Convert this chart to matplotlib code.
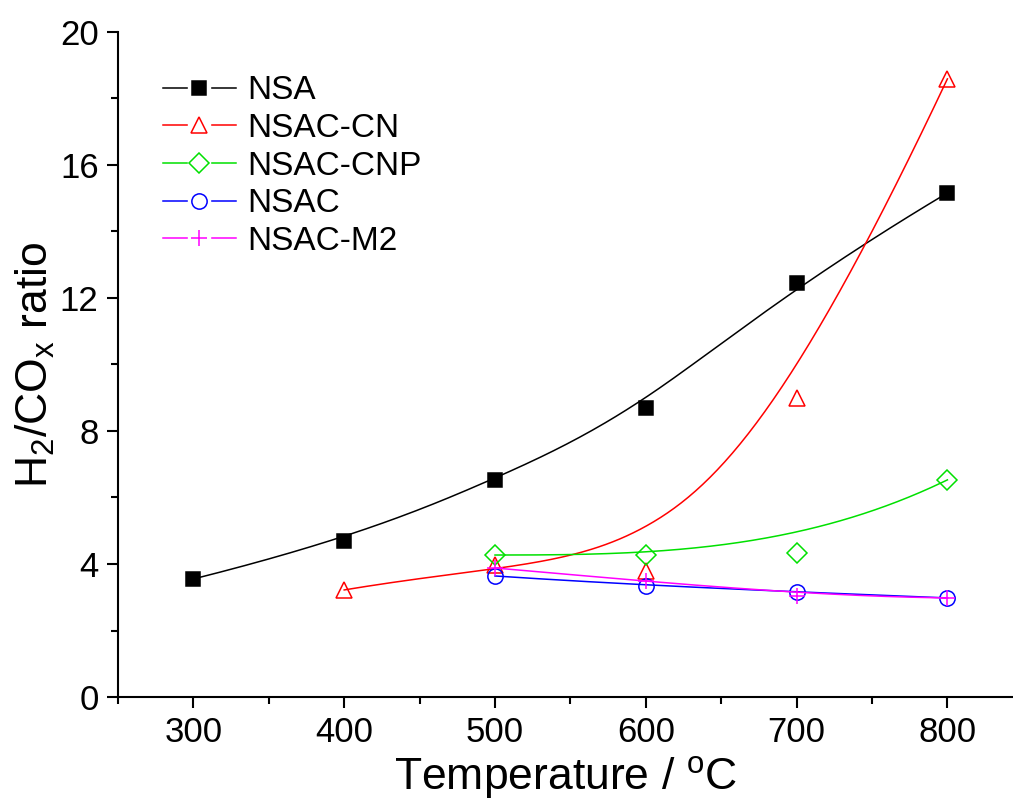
import numpy as np
import matplotlib
matplotlib.use("Agg")
import matplotlib.pyplot as plt
from matplotlib.lines import Line2D
from matplotlib.legend_handler import HandlerTuple
from matplotlib.ticker import MultipleLocator

plt.rcParams['font.family'] = ['Liberation Sans', 'DejaVu Sans']
plt.rcParams['mathtext.fontset'] = 'custom'
plt.rcParams['mathtext.rm'] = 'Liberation Sans'
plt.rcParams['mathtext.it'] = 'Liberation Sans'

# data
temp_nsa = [300, 400, 500, 600, 700, 800]
nsa = [3.55, 4.69, 6.52, 8.69, 12.45, 15.16]

temp_cn = [400, 500, 600, 700, 800]
nsac_cn = [3.22, 3.97, 3.79, 8.99, 18.59]

temp_cnp = [500, 600, 700, 800]
nsac_cnp = [4.27, 4.27, 4.33, 6.53]

temp_nsac = [500, 600, 700, 800]
nsac = [3.64, 3.34, 3.16, 2.98]

temp_m2 = [500, 600, 700, 800]
nsac_m2 = [3.88, 3.49, 3.04, 2.98]


def bspline(xs, ys, n=200):
    # clamped B-spline using the data points as control points (Origin-style)
    pts = np.column_stack([xs, ys]).astype(float)
    m = len(pts)
    k = min(3, m - 1)
    inner = np.linspace(0, 1, m - k + 1)[1:-1]
    knots = np.concatenate([np.zeros(k + 1), inner, np.ones(k + 1)])
    t = np.linspace(0, 1, n)
    t[-1] = 1 - 1e-12

    def basis(i, p, u):
        if p == 0:
            return ((knots[i] <= u) & (u < knots[i + 1])).astype(float)
        a = np.zeros_like(u)
        b = np.zeros_like(u)
        d1 = knots[i + p] - knots[i]
        d2 = knots[i + p + 1] - knots[i + 1]
        if d1 > 0:
            a = (u - knots[i]) / d1 * basis(i, p - 1, u)
        if d2 > 0:
            b = (knots[i + p + 1] - u) / d2 * basis(i + 1, p - 1, u)
        return a + b

    out = np.zeros((n, 2))
    for i in range(m):
        out += basis(i, k, t)[:, None] * pts[i]
    return out[:, 0], out[:, 1]


series = [
    (temp_nsa, nsa, 'NSA', 'black', 's', 'black', 9.5),
    (temp_cn, nsac_cn, 'NSAC-CN', '#ff0000', '^', 'none', 12),
    (temp_cnp, nsac_cnp, 'NSAC-CNP', '#00e000', 'D', 'none', 10),
    (temp_nsac, nsac, 'NSAC', '#0000ff', 'o', 'none', 11),
    (temp_m2, nsac_m2, 'NSAC-M2', '#ff00ff', '+', 'none', 12),
]

fig = plt.figure(figsize=(10.13, 8), dpi=100)
ax = fig.add_axes([118 / 1013, 1 - 697 / 800, 1 - 118 / 1013, (697 - 32) / 800])

handles = []
labels = []
for xs, ys, name, col, mk, fc, ms in series:
    sx, sy = bspline(xs, ys)
    ax.plot(sx, sy, color=col, lw=1.1)
    ax.plot(xs, ys, linestyle='none', marker=mk, color=col,
            markerfacecolor=fc, markeredgecolor=col, markersize=ms,
            markeredgewidth=1.1)
    # legend entry: line, white gap, then the marker (Origin style)
    h_line = Line2D([], [], color=col, lw=1.1)
    h_gap = Line2D([], [], linestyle='none', marker='s', markersize=16,
                   markerfacecolor='white', markeredgecolor='white')
    h_mark = Line2D([], [], linestyle='none', marker=mk, markersize=ms,
                    markerfacecolor=col if fc == 'black' else 'none',
                    markeredgecolor=col, markeredgewidth=1.1)
    handles.append((h_line, h_gap, h_mark))
    labels.append(name)

ax.set_xlim(250, 843.5)
ax.set_ylim(0, 20)
ax.xaxis.set_major_locator(MultipleLocator(100))
ax.xaxis.set_minor_locator(MultipleLocator(50))
ax.yaxis.set_major_locator(MultipleLocator(4))
ax.yaxis.set_minor_locator(MultipleLocator(2))
ax.spines['top'].set_visible(False)
ax.spines['right'].set_visible(False)
for s in ['left', 'bottom']:
    ax.spines[s].set_linewidth(1.5)
ax.tick_params(which='major', direction='out', length=8, width=1.5,
               labelsize=25, pad=6)
ax.tick_params(which='minor', direction='out', length=5, width=1.5)

ax.set_xlabel(r'Temperature / $^{\mathrm{o}}$C', fontsize=32, labelpad=3)
ax.set_ylabel(r'H$_{\mathrm{2}}$/CO$_{\mathrm{x}}$ ratio', fontsize=32, labelpad=2)

ax.legend(handles=handles, labels=labels, loc='upper left',
          bbox_to_anchor=(0.035, 0.955), frameon=False, fontsize=24,
          handler_map={tuple: HandlerTuple(ndivide=1)},
          handlelength=2.2, handletextpad=0.35, labelspacing=0.2,
          borderaxespad=0)

fig.savefig('out.png', dpi=100)
